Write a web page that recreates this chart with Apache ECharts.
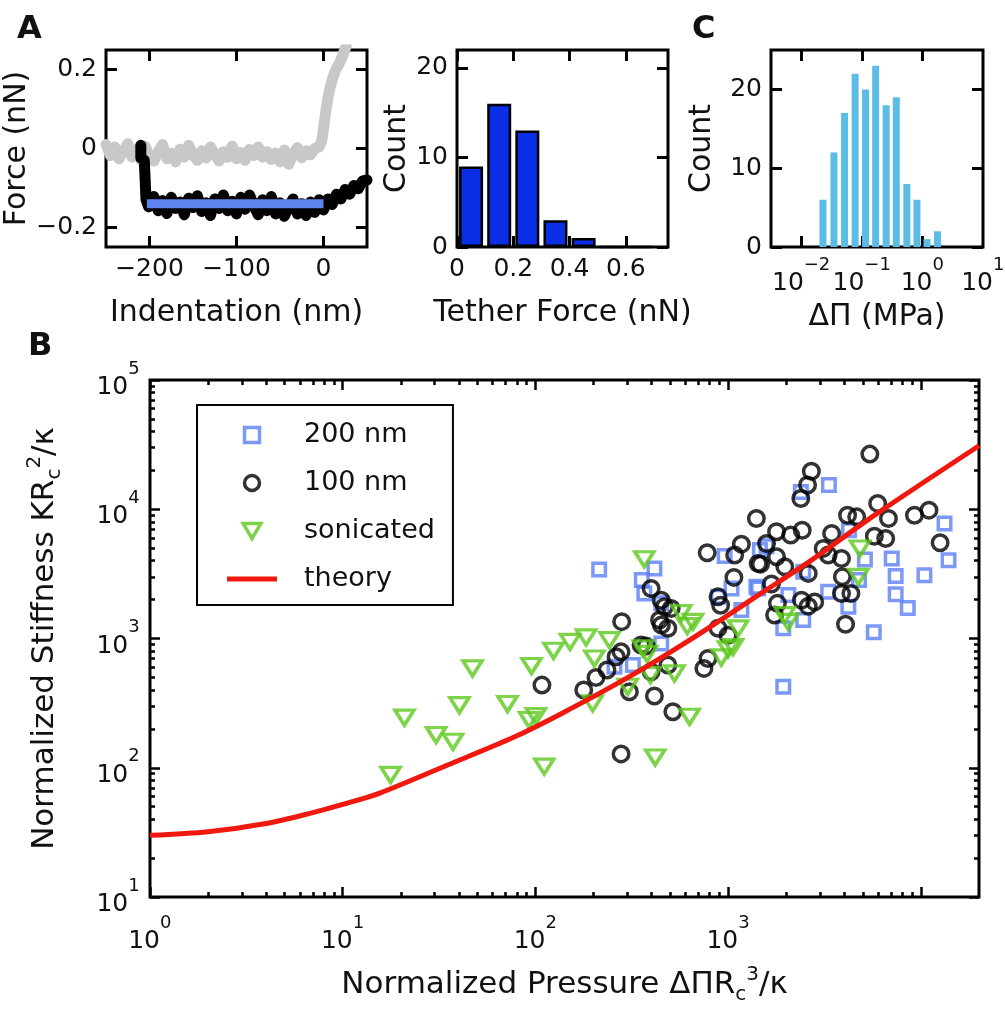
<!DOCTYPE html>
<html><head><meta charset="utf-8">
<script src="https://cdn.jsdelivr.net/npm/echarts@6/dist/echarts.min.js"></script>
<style>html,body{margin:0;padding:0;background:#fff}#c{width:1005px;height:1010px}</style>
</head><body><div id="c"></div>
<script>
// ---------- Panel A (left): force curves ----------
const approachX = [-250,-245,-240,-235,-230,-225,-220,-215,-210,-205,-200,-195,-190,-185,-180,-175,-170,-165,-160,-155,-150,-145,-140,-135,-130,-125,-120,-115,-110,-105,-100,-95,-90,-85,-80,-75,-70,-65,-60,-55,-50,-45,-40,-35,-30,-25,-20,-15,-10,-5,-2,0,3,6,10,14,18,22,26];
const approachY = [0.010,-0.018,0.004,-0.026,-0.006,0.012,-0.022,-0.002,-0.030,0.006,-0.020,-0.032,-0.008,0.010,-0.026,-0.012,-0.034,-0.002,-0.022,0.008,-0.016,-0.030,-0.006,-0.024,0.004,-0.014,-0.032,-0.008,-0.022,0.006,-0.026,-0.010,-0.030,-0.002,-0.018,0.004,-0.022,-0.008,-0.028,-0.012,-0.034,-0.004,-0.040,-0.014,0.002,-0.024,-0.006,-0.016,0.000,0.004,0.02,0.05,0.10,0.14,0.175,0.20,0.215,0.235,0.26];
const retractX = [-210,-210,-206,-204,-201,-195,-190,-185,-180,-175,-170,-165,-160,-155,-150,-145,-140,-135,-130,-125,-120,-115,-110,-105,-100,-95,-90,-85,-80,-75,-70,-65,-60,-55,-50,-45,-40,-35,-30,-25,-20,-15,-10,-5,0,5,10,15,20,25,30,35,40,45,50];
const retractY = [0.008,-0.024,-0.030,-0.13,-0.148,-0.122,-0.158,-0.132,-0.165,-0.124,-0.152,-0.136,-0.168,-0.126,-0.150,-0.120,-0.160,-0.138,-0.170,-0.128,-0.152,-0.118,-0.158,-0.134,-0.166,-0.124,-0.154,-0.118,-0.146,-0.168,-0.130,-0.158,-0.122,-0.166,-0.138,-0.172,-0.148,-0.128,-0.166,-0.140,-0.170,-0.136,-0.162,-0.130,-0.156,-0.128,-0.142,-0.116,-0.128,-0.104,-0.116,-0.094,-0.102,-0.082,-0.080];
const tetherX = [-203, 0];
const tetherY = [-0.14, -0.14];
const contactX = [-208];
const contactY = [-0.011];

// ---------- Panel A (right): tether force histogram ----------
const tetherBins = [0.05,0.15,0.25,0.35,0.45,0.55,0.65];
const tetherCounts = [9,16,13,3,1,0,0];

// ---------- Panel C: pressure histogram ----------
const pressureBins = [0.0228,0.0346,0.0518,0.0773,0.115,0.169,0.252,0.370,0.553,0.811,1.19,1.77];
const pressureCounts = [6,12,17,22,20,23,18,19,8,6,1,2];

// ---------- Panel B: stiffness vs pressure ----------
const data200 = [[214,3420],[414,3480],[356,2830],[958,4340],[1460,4830],[1040,2440],[1430,2440],[885,2100],[367,2230],[3330,15400],[2380,13600],[13250,7770],[13900,4040],[7050,4160],[7390,3040],[10420,3090],[7390,2200],[5120,4090],[4770,2830],[4230,6890],[1580,5180],[1400,2510],[2050,2170],[3300,2300],[2450,3280],[449,1870],[1170,1660],[2450,1390],[1930,1200],[4200,1760],[1930,423],[257,604],[320,623],[449,916],[8540,1720],[5690,1120]];
const data100 = [[280,1350],[440,1390],[450,1270],[486,1200],[467,1760],[398,2440],[506,1710],[1070,2970],[885,2100],[913,1810],[885,1200],[998,1060],[785,700],[748,587],[353,890],[375,873],[278,788],[262,722],[235,570],[206,500],[178,399],[307,387],[414,359],[486,623],[398,552],[516,271],[278,128],[1470,3760],[1675,2640],[1800,1870],[1740,1520],[2600,3190],[2400,1980],[2600,1780],[2810,1920],[3910,3000],[3870,2230],[4330,2230],[4060,1290],[778,4600],[1400,8490],[1170,5370],[1080,4420],[1430,3810],[449,1980],[5430,26700],[2700,19700],[2580,15400],[2380,12100],[1780,6690],[2110,6310],[2420,6890],[3440,6500],[4160,9000],[4640,8730],[5960,11100],[6780,8490],[9250,9000],[11000,9840],[5730,6190],[6560,5940],[12570,5500],[1580,5440],[1780,4290],[1965,3590],[3300,4420],[3110,4980],[3870,4160],[108,436]];
const dataSonic = [[17.7,88],[20.9,244],[30.5,179],[37.3,159],[40.3,305],[47.1,587],[71.6,311],[92.7,234],[100.5,251],[95.4,612],[111,102],[124,803],[151,942],[183,1020],[242,972],[202,701],[198,315],[301,423],[361,838],[380,760],[395,521],[526,537],[418,120],[630,248],[367,4100],[570,1572],[656,1346],[613,1247],[1125,1197],[998,824],[1059,858],[920,714],[1965,1517],[2046,1346],[4822,4975],[4731,3000]];
const theoryX = [1,2,4,7,10,15.7,35,77,136,302,667,1486,2704,5750,20000];
const theoryY = [30,32,37,45,52,64,105,172,262,500,1026,2244,4040,9000,31000];

// ---------- ticks ----------
const ticksA1x = [-200,-100,0];
const ticksA1y = [-0.2,0,0.2];
const ticksA2x = [0,0.2,0.4,0.6];
const ticksA2y = [0,10,20];
const ticksCx = [0.01,0.1,1];
const labelsCx = [0.01,0.1,1,10];
const ticksCy = [0,10,20];
const ticksBx = [1,10,100,1000,10000];
const labelsBx = [1,10,100,1000];
const ticksBy = [10,100,1000,10000,100000];
const minorBx = [2,3,4,5,6,7,8,9,20,30,40,50,60,70,80,90,200,300,400,500,600,700,800,900,2000,3000,4000,5000,6000,7000,8000,9000];
const minorBy = [20,30,40,50,60,70,80,90,200,300,400,500,600,700,800,900,2000,3000,4000,5000,6000,7000,8000,9000,20000,30000,40000,50000,60000,70000,80000,90000];

// ---------- styling helpers ----------
const FONT = 'DejaVu Sans';
const TXT = '#111';
const pair = (xs, ys) => xs.map((x, i) => [x, ys[i]]);
const plainFmt = v => (v < 0 ? '\u2212' + (-v) : String(v));
const expFmt = v => { const e = Math.round(Math.log10(v)); return '{b|10}{s|' + (e < 0 ? '\u2212' + (-e) : e) + '}{g| }'; };
const richExp = {
  b: {fontFamily: FONT, fontSize: 25, lineHeight: 25, verticalAlign: 'bottom', color: TXT},
  s: {fontFamily: FONT, fontSize: 18, lineHeight: 18, verticalAlign: 'top', color: TXT},
  g: {fontFamily: FONT, fontSize: 1, lineHeight: 40, color: TXT}
};
const richName = {
  n: {fontFamily: FONT, fontSize: 31, lineHeight: 40, color: TXT},
  sub: {fontFamily: FONT, fontSize: 20, lineHeight: 20, verticalAlign: 'bottom', color: TXT},
  sup: {fontFamily: FONT, fontSize: 20, lineHeight: 20, verticalAlign: 'top', color: TXT}
};
const tick = (vals, len, w) => ({show: true, inside: true, length: len, customValues: vals, lineStyle: {color: '#000', width: w || 3}});
const nameStyle = {fontFamily: FONT, fontSize: 30, color: TXT};
function axis(o) {
  return Object.assign({
    axisLine: {show: false, onZero: false}, splitLine: {show: false}, minorTick: {show: false},
    axisLabel: {show: false}
  }, o);
}
function labels(vals, fmt, margin, rich) {
  const l = {show: true, customValues: vals, formatter: fmt, margin: margin, fontFamily: FONT, fontSize: 25, color: TXT};
  if (rich) l.rich = rich;
  return l;
}
const gridBase = {show: true, borderColor: '#000', borderWidth: 3, backgroundColor: 'transparent', containLabel: false, outerBoundsMode: 'none'};

const option = {
  animation: false,
  backgroundColor: '#fff',
  textStyle: {fontFamily: FONT},
  grid: [
    Object.assign({left: 106, top: 50, width: 261, height: 197}, gridBase),
    Object.assign({left: 457, top: 50, width: 211, height: 197}, gridBase),
    Object.assign({left: 771, top: 50, width: 212, height: 197}, gridBase),
    Object.assign({left: 150, top: 380, width: 829, height: 517}, gridBase)
  ],
  xAxis: [
    axis({gridIndex: 0, type: 'value', min: -250, max: 50, position: 'bottom', axisTick: tick(ticksA1x, 11),
      axisLabel: labels(ticksA1x, plainFmt, 10), name: 'Indentation (nm)', nameLocation: 'middle', nameGap: 51, nameTextStyle: nameStyle}),
    axis({gridIndex: 0, type: 'value', min: -250, max: 50, position: 'top', axisTick: tick(ticksA1x, 11)}),
    axis({gridIndex: 1, type: 'value', min: 0, max: 0.75, position: 'bottom', axisTick: tick(ticksA2x, 11),
      axisLabel: labels(ticksA2x, plainFmt, 10), name: 'Tether Force (nN)', nameLocation: 'middle', nameGap: 51, nameTextStyle: nameStyle}),
    axis({gridIndex: 1, type: 'value', min: 0, max: 0.75, position: 'top', axisTick: tick(ticksA2x, 11)}),
    axis({gridIndex: 2, type: 'log', logBase: 10, min: 0.00316, max: 10, position: 'bottom', axisTick: tick(ticksCx, 11),
      axisLabel: labels(labelsCx, expFmt, 9, richExp), name: '\u0394\u03a0 (MPa)', nameLocation: 'middle', nameGap: 55, nameTextStyle: nameStyle}),
    axis({gridIndex: 2, type: 'log', logBase: 10, min: 0.00316, max: 10, position: 'top', axisTick: tick(ticksCx, 11)}),
    axis({gridIndex: 3, type: 'log', logBase: 10, min: 1, max: 20000, position: 'bottom', axisTick: tick(ticksBx, 10, 2.5),
      axisLabel: labels(labelsBx, expFmt, 17, richExp),
      name: '{n|Normalized Pressure \u0394\u03a0R}{sub|c}{sup|3}{n|/\u03ba}', nameLocation: 'middle', nameGap: 68,
      nameTextStyle: {fontFamily: FONT, fontSize: 31, color: TXT, rich: richName}}),
    axis({gridIndex: 3, type: 'log', logBase: 10, min: 1, max: 20000, position: 'top', axisTick: tick(ticksBx, 10, 2.5)}),
    axis({gridIndex: 3, type: 'log', logBase: 10, min: 1, max: 20000, position: 'bottom', axisTick: tick(minorBx, 5, 2.5)}),
    axis({gridIndex: 3, type: 'log', logBase: 10, min: 1, max: 20000, position: 'top', axisTick: tick(minorBx, 5, 2.5)})
  ],
  yAxis: [
    axis({gridIndex: 0, type: 'value', min: -0.25, max: 0.25, position: 'left', axisTick: tick(ticksA1y, 11),
      axisLabel: labels(ticksA1y, plainFmt, 9), name: 'Force (nN)', nameLocation: 'middle', nameRotate: 90, nameGap: 61, nameTextStyle: nameStyle}),
    axis({gridIndex: 0, type: 'value', min: -0.25, max: 0.25, position: 'right', axisTick: tick(ticksA1y, 11)}),
    axis({gridIndex: 1, type: 'value', min: 0, max: 22, position: 'left', axisTick: tick(ticksA2y, 11),
      axisLabel: labels(ticksA2y, plainFmt, 9), name: 'Count', nameLocation: 'middle', nameRotate: 90, nameGap: 45, nameTextStyle: nameStyle}),
    axis({gridIndex: 1, type: 'value', min: 0, max: 22, position: 'right', axisTick: tick(ticksA2y, 11)}),
    axis({gridIndex: 2, type: 'value', min: 0, max: 25, position: 'left', axisTick: tick(ticksCy, 11),
      axisLabel: labels(ticksCy, plainFmt, 9), name: 'Count', nameLocation: 'middle', nameRotate: 90, nameGap: 54, nameTextStyle: nameStyle}),
    axis({gridIndex: 2, type: 'value', min: 0, max: 25, position: 'right', axisTick: tick(ticksCy, 11)}),
    axis({gridIndex: 3, type: 'log', logBase: 10, min: 10, max: 100000, position: 'left', axisTick: tick(ticksBy, 10, 2.5),
      axisLabel: labels(ticksBy, expFmt, 10, richExp),
      name: '{n|Normalized Stiffness KR}{sub|c}{sup|2}{n|/\u03ba}', nameLocation: 'middle', nameRotate: 90, nameGap: 85,
      nameTextStyle: {fontFamily: FONT, fontSize: 31, color: TXT, rich: richName}}),
    axis({gridIndex: 3, type: 'log', logBase: 10, min: 10, max: 100000, position: 'right', axisTick: tick(ticksBy, 10, 2.5)}),
    axis({gridIndex: 3, type: 'log', logBase: 10, min: 10, max: 100000, position: 'left', axisTick: tick(minorBy, 5, 2.5)}),
    axis({gridIndex: 3, type: 'log', logBase: 10, min: 10, max: 100000, position: 'right', axisTick: tick(minorBy, 5, 2.5)})
  ],
  legend: {
    data: [
      {name: '200 nm', icon: 'path://M0,0L10,0L10,10L0,10Z'},
      {name: '100 nm', icon: 'circle'},
      {name: 'sonicated', icon: 'path://M0,0L20,0L10,17Z'},
      {name: 'theory', icon: 'path://M0,0L50,0L50,5L0,5Z', itemStyle: {color: '#f0180f', borderWidth: 0}}
    ],
    orient: 'vertical', left: 197, top: 405,
    padding: [15, 18, 11, 30], itemGap: 18, itemWidth: 50, itemHeight: 15,
    borderColor: '#000', borderWidth: 2, backgroundColor: '#fff', selectedMode: false,
    symbolKeepAspect: true,
    itemStyle: {borderWidth: 3.5},
    textStyle: {fontFamily: FONT, fontSize: 27, color: TXT, lineHeight: 30, padding: [0, 0, 0, 22]}
  },
  graphic: [
    {type: 'text', left: 17, top: 14, style: {text: 'A', fontFamily: FONT, fontWeight: 'bold', fontSize: 32, fill: TXT}},
    {type: 'text', left: 28, top: 331, style: {text: 'B', fontFamily: FONT, fontWeight: 'bold', fontSize: 32, fill: TXT}},
    {type: 'text', left: 692, top: 14, style: {text: 'C', fontFamily: FONT, fontWeight: 'bold', fontSize: 32, fill: TXT}}
  ],
  series: [
    {name: 'approach', type: 'line', xAxisIndex: 0, yAxisIndex: 0, data: pair(approachX, approachY), showSymbol: false, symbol: 'none',
      lineStyle: {color: '#c8c8c8', width: 11, join: 'round', cap: 'round'}, clip: true},
    {name: 'retract', type: 'line', xAxisIndex: 0, yAxisIndex: 0, data: pair(retractX, retractY), showSymbol: false, symbol: 'none',
      lineStyle: {color: '#000', width: 11, join: 'round', cap: 'round'}, clip: true},
    {name: 'tether', type: 'line', xAxisIndex: 0, yAxisIndex: 0, data: pair(tetherX, tetherY), showSymbol: false, symbol: 'none',
      lineStyle: {color: '#5b84ee', width: 9}, clip: true},
    {name: 'contact', type: 'scatter', xAxisIndex: 0, yAxisIndex: 0, data: pair(contactX, contactY), symbol: 'rect', symbolSize: [8, 10],
      itemStyle: {color: '#5b84ee', borderColor: '#000', borderWidth: 1}},
    {name: 'tetherHist', type: 'bar', xAxisIndex: 2, yAxisIndex: 2, data: pair(tetherBins, tetherCounts), barWidth: 24,
      itemStyle: {color: '#0a2de6', borderColor: '#000', borderWidth: 2.5}},
    {name: 'pressureHist', type: 'bar', xAxisIndex: 4, yAxisIndex: 4, data: pair(pressureBins, pressureCounts), barWidth: 7,
      itemStyle: {color: '#5bbde6'}},
    {name: '200 nm', type: 'scatter', xAxisIndex: 6, yAxisIndex: 6, data: data200, symbol: 'rect', symbolSize: 12.5,
      itemStyle: {color: 'rgba(0,0,0,0)', borderColor: '#5b7ff2', borderWidth: 3.5}},
    {name: '100 nm', type: 'scatter', xAxisIndex: 6, yAxisIndex: 6, data: data100, symbol: 'circle', symbolSize: 15.5,
      itemStyle: {color: 'rgba(0,0,0,0)', borderColor: '#000', borderWidth: 3.5}},
    {name: 'sonicated', type: 'scatter', xAxisIndex: 6, yAxisIndex: 6, data: dataSonic, symbol: 'path://M0,0L20,0L10,17Z', symbolSize: [19, 15],
      itemStyle: {color: 'rgba(0,0,0,0)', borderColor: '#5cc81c', borderWidth: 3.5}},
    {name: 'theory', type: 'line', xAxisIndex: 6, yAxisIndex: 6, data: pair(theoryX, theoryY), smooth: 0.3, showSymbol: false, symbol: 'none',
      lineStyle: {color: '#f0180f', width: 5}, itemStyle: {color: '#f0180f'}, clip: true}
  ]
};
const chart = echarts.init(document.getElementById('c'), null, {renderer: 'canvas'});
chart.setOption(option);
</script></body></html>
